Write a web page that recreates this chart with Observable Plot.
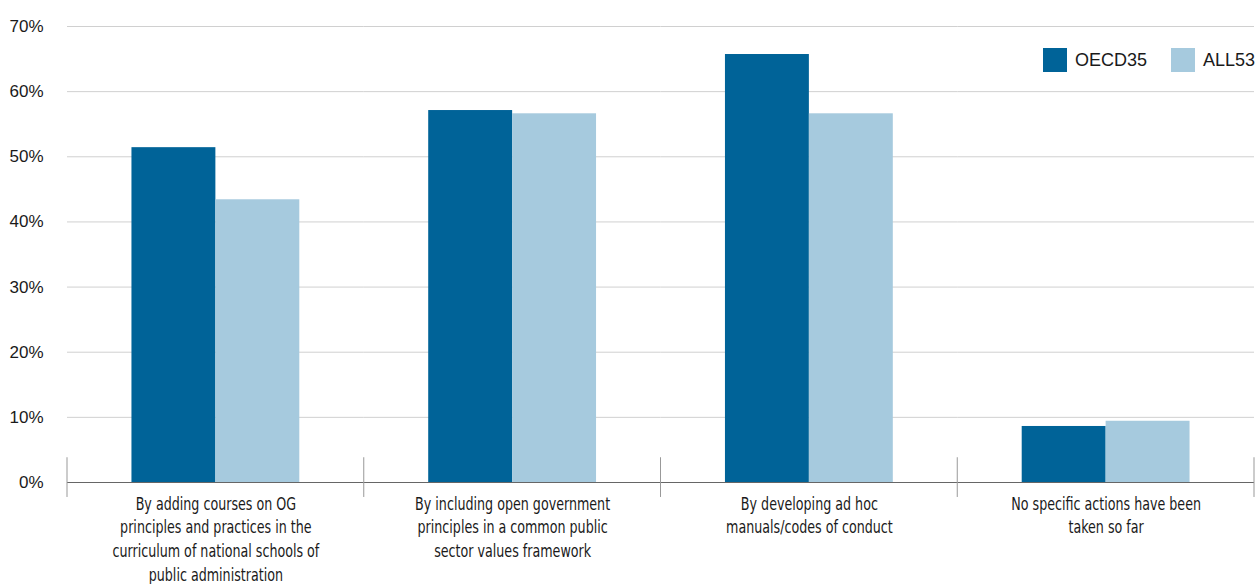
<!DOCTYPE html>
<html><head><meta charset="utf-8">
<script src="https://cdn.jsdelivr.net/npm/d3@7"></script>
<script src="https://cdn.jsdelivr.net/npm/@observablehq/plot@0.6"></script>
<style>
body{margin:0;background:#fff;}
#wrap{position:relative;width:1258px;height:584px;}
#legend{position:absolute;left:1043px;top:48px;display:flex;align-items:center;font-family:'Liberation Sans',Arial,sans-serif;font-size:18px;color:#1a1a1a;}
.sw{width:24px;height:24px;display:inline-block;margin-right:8px;}
.item{display:flex;align-items:center;margin-right:24px;}
</style></head><body><div id="wrap"><div id="legend"></div></div>
<script>
const categories = [
  "By adding courses on OG principles and practices in the curriculum of national schools of public administration",
  "By including open government principles in a common public sector values framework",
  "By developing ad hoc manuals/codes of conduct",
  "No specific actions have been taken so far"
];
const tickLabels = [
  "By adding courses on OG\nprinciples and practices in the\ncurriculum of national schools of\npublic administration",
  "By including open government\nprinciples in a common public\nsector values framework",
  "By developing ad hoc\nmanuals/codes of conduct",
  "No specific actions have been\ntaken so far"
];
const series = ["OECD35", "ALL53"];
const oecd35 = [51.4, 57.1, 65.7, 8.6];
const all53 = [43.4, 56.6, 56.6, 9.4];
const colors = ["#006398", "#a6cade"];
const yTicks = [0, 10, 20, 30, 40, 50, 60, 70];
const sepExtent = [-2.3, 3.8];

const data = categories.flatMap((c, i) => [
  {category: c, series: series[0], value: oecd35[i]},
  {category: c, series: series[1], value: all53[i]}
]);

const plot = Plot.plot({
  width: 1258, height: 584,
  marginTop: 26, marginBottom: 102, marginLeft: 67, marginRight: 4,
  style: {fontFamily: "'Liberation Sans', Arial, sans-serif", fontSize: "17px", color: "#1a1a1a", background: "#fff"},
  fx: {domain: categories, padding: 0, round: false, label: null, axis: null},
  x: {domain: series, paddingInner: 0, paddingOuter: 0.768, round: false, axis: null},
  y: {domain: [0, 70], label: null, axis: null},
  color: {domain: series, range: colors},
  marks: [
    Plot.gridY(yTicks.slice(1), {stroke: "#d0d0d0", strokeOpacity: 1}),
    Plot.axisY(yTicks, {tickSize: 0, tickPadding: 24, tickFormat: d => d + "%", fontSize: 17, label: null}),
    Plot.barY(data, {fx: "category", x: "series", y: "value", fill: "series"}),
    Plot.ruleY([0], {stroke: "#666"}),
    Plot.axisFx({anchor: "bottom", tickSize: 0, tickPadding: 10, tickFormat: d => tickLabels[categories.indexOf(d)], lineHeight: 1.41, fontFamily: "'Liberation Sans Narrow', 'DejaVu Sans Condensed', sans-serif", fontSize: 17, label: null})
  ]
});

// narrow the category labels (condensed face is not installed)
d3.select(plot).selectAll('g[aria-label="fx-axis tick label"] text')
  .attr("transform", function() { return (this.getAttribute("transform") || "") + " scale(0.83,1)"; });

// category separators from the fx and y scales
const fx = plot.scale("fx"), ys = plot.scale("y");
const bw = fx.bandwidth;
const edges = categories.map(c => fx.apply(c)).concat([fx.apply(categories[categories.length - 1]) + bw]);
const sv = d3.select(plot);
sv.append("g").selectAll("line").data(edges).join("line")
  .attr("x1", d => d).attr("x2", d => d)
  .attr("y1", ys.apply(sepExtent[1])).attr("y2", ys.apply(sepExtent[0]))
  .attr("stroke", "#999").attr("stroke-width", 1);

document.getElementById("wrap").prepend(plot);
const leg = document.getElementById("legend");
series.forEach((s, i) => {
  const it = document.createElement("div"); it.className = "item";
  const sw = document.createElement("span"); sw.className = "sw"; sw.style.background = colors[i];
  const t = document.createElement("span"); t.textContent = s;
  it.append(sw, t); leg.append(it);
});
</script></body></html>
